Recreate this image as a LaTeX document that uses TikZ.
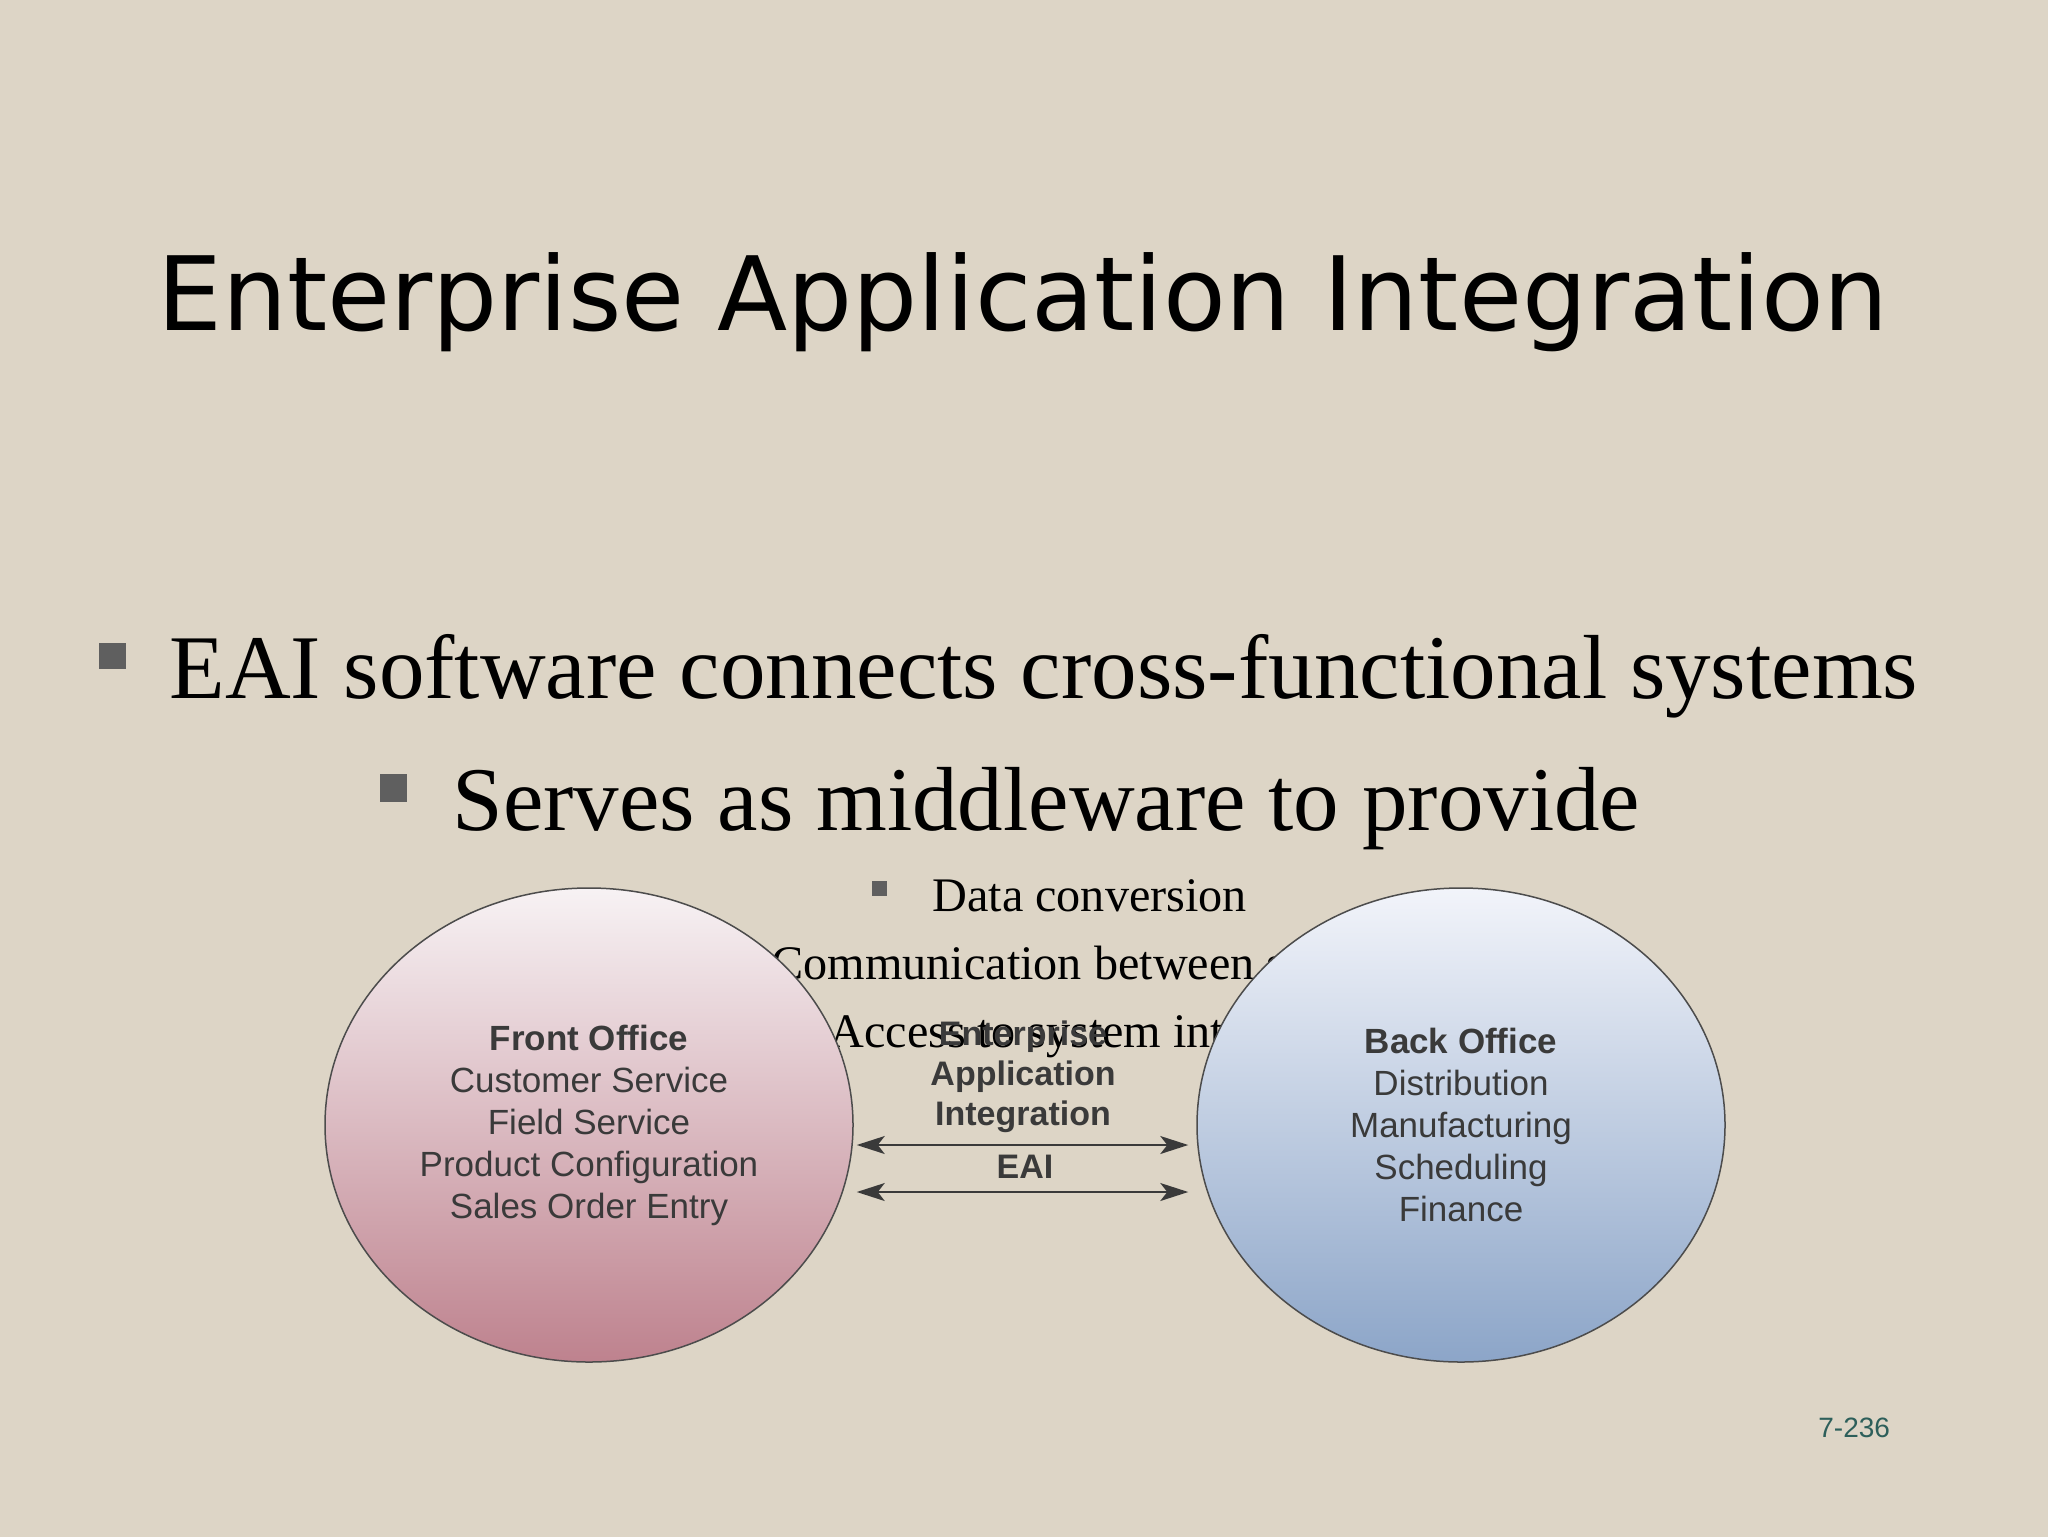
\documentclass[tikz,border=0pt]{standalone}
\usepackage{fontspec}
\setmainfont{Liberation Serif}
\newfontfamily\titlefont{DejaVu Sans}
\newfontfamily\arialfont{Liberation Sans}
\usetikzlibrary{arrows.meta,shapes.geometric,calc}
\definecolor{bg}{RGB}{221,213,198}
\definecolor{bulletgray}{RGB}{95,95,95}
\definecolor{diagtext}{RGB}{58,58,58}
\definecolor{pinktop}{RGB}{247,242,244}
\definecolor{pinkbot}{RGB}{190,130,142}
\definecolor{bluetop}{RGB}{242,244,250}
\definecolor{bluebot}{RGB}{140,165,200}
\definecolor{pagenum}{RGB}{45,95,90}
\begin{document}
\begin{tikzpicture}[x=0.5pt,y=-0.5pt,
  office/.style={ellipse, draw=black!70, line width=0.75pt,
    minimum width=264pt, minimum height=237pt, inner sep=0pt,
    align=center, text=diagtext,
    font=\arialfont\fontsize{17.5}{21}\selectfont},
  bigbullet/.style={anchor=base west, inner sep=0pt,
    font=\fontsize{45.5}{54}\selectfont},
  subbullet/.style={anchor=base west, inner sep=0pt,
    font=\fontsize{24.1}{28}\selectfont},
  eailabel/.style={anchor=base, inner sep=0pt, text=diagtext,
    font=\arialfont\bfseries\fontsize{17}{20}\selectfont},
  eaiarrow/.style={{Stealth[length=14pt,width=9pt,inset=3.5pt]}-{Stealth[length=14pt,width=9pt,inset=3.5pt]},
    line width=0.9pt, draw=diagtext}
]
\useasboundingbox (0,0) rectangle (2048,1536);
\fill[bg] (-2,-2) rectangle (2050,1538);

% title
\node[anchor=base, inner sep=0pt, font=\titlefont\fontsize{51.3}{60}\selectfont]
  (title) at (1023,330) {Enterprise Application Integration};

% bullets
\fill[bulletgray] (99,643) rectangle (126,669);
\node[bigbullet] (b1) at (169,698) {EAI software connects cross-functional systems};
\fill[bulletgray] (380,774) rectangle (407,802);
\node[bigbullet] (b2) at (452,830) {Serves as middleware to provide};

\fill[bulletgray] (872,881) rectangle (887,896);
\node[subbullet] (s1) at (932,911) {Data conversion};
\fill[bulletgray] (710,949) rectangle (725,964);
\node[subbullet] (s2) at (771,979) {Communication between systems};
\fill[bulletgray] (768,1017) rectangle (783,1032);
\node[subbullet] (s3) at (829,1047) {Access to system interfaces};

% offices
\node[office, top color=pinktop, bottom color=pinkbot] (FO) at (589,1125)
  {\textbf{Front Office}\\Customer Service\\Field Service\\Product Configuration\\Sales Order Entry};
\node[office, top color=bluetop, bottom color=bluebot] (BO) at (1461,1125)
  {\textbf{Back Office}\\Distribution\\Manufacturing\\Scheduling\\Finance};

% EAI labels
\node[eailabel] (e1) at (1023,1045) {Enterprise};
\node[eailabel] (e2) at (1023,1085) {Application};
\node[eailabel] (e3) at (1023,1125) {Integration};
\node[eailabel] (e4) at (1025,1178) {EAI};

\draw[eaiarrow] ($(FO.east)+(3,20)$) -- ($(BO.west)+(-8,20)$);
\draw[eaiarrow] ($(FO.east)+(3,67)$) -- ($(BO.west)+(-8,67)$);

% page number
\node[anchor=base west, inner sep=0pt, text=pagenum,
  font=\arialfont\fontsize{14}{16}\selectfont] (pg) at (1818,1437) {7-236};
\end{tikzpicture}
\end{document}
